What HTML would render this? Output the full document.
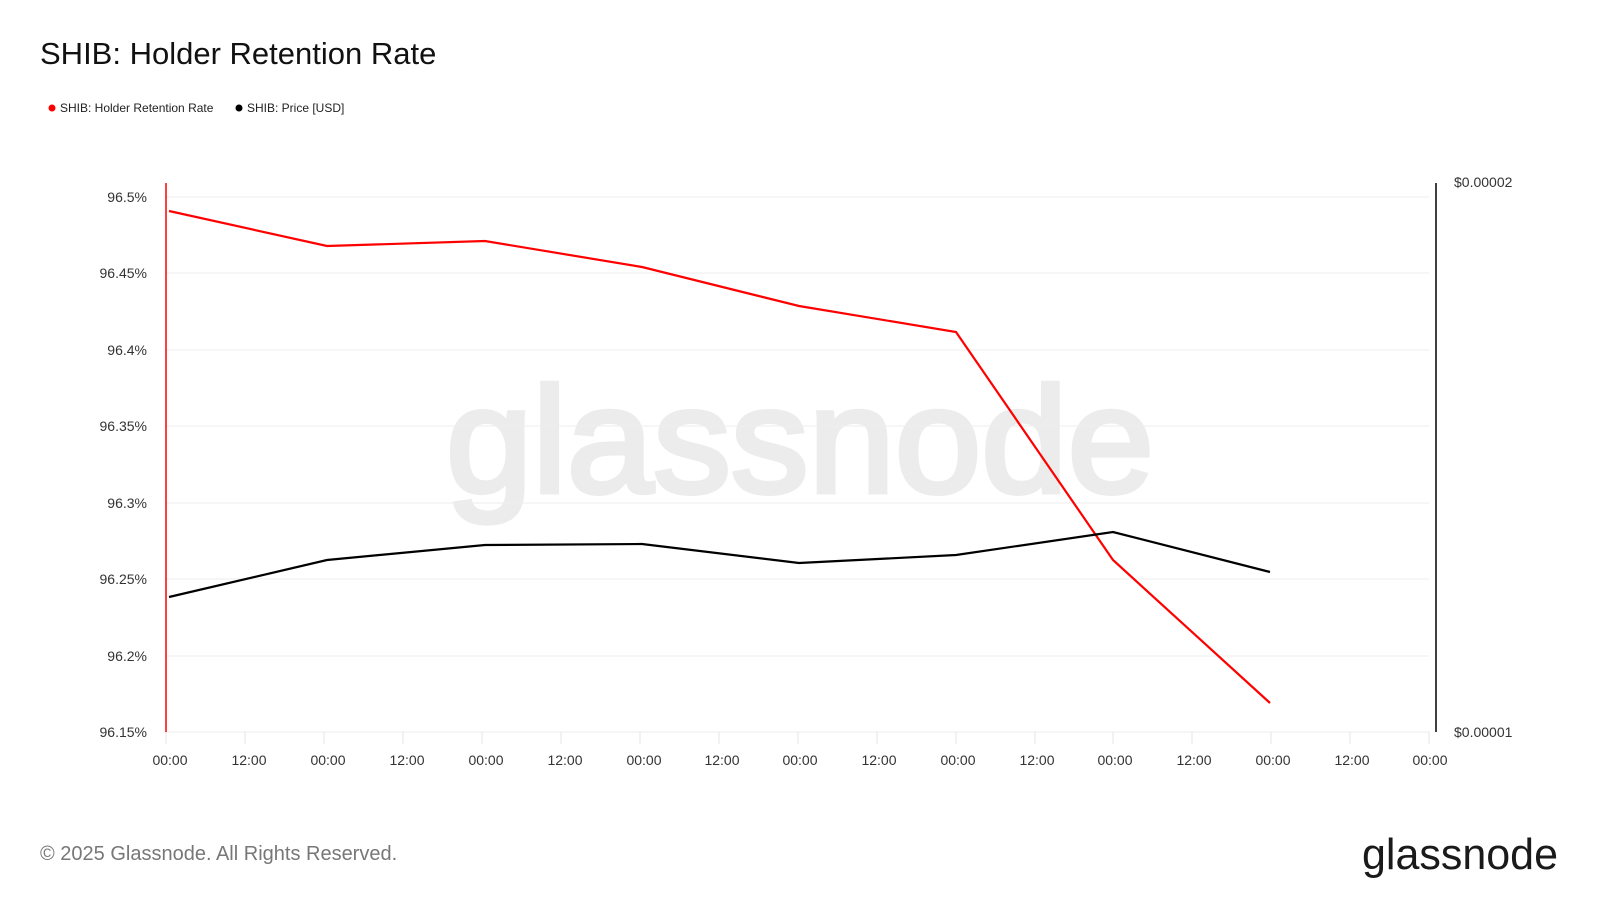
<!DOCTYPE html>
<html><head><meta charset="utf-8"><style>
body{margin:0;background:#fff;width:1600px;height:900px;overflow:hidden;font-family:"Liberation Sans",sans-serif}
</style></head><body>
<svg width="1600" height="900" xmlns="http://www.w3.org/2000/svg" font-family="Liberation Sans, sans-serif">
<text x="40" y="64" font-size="31" fill="#111">SHIB: Holder Retention Rate</text>
<circle cx="52" cy="108" r="3.5" fill="#f00"/>
<text x="60" y="112" font-size="12" fill="#222">SHIB: Holder Retention Rate</text>
<circle cx="239" cy="108" r="3.5" fill="#000"/>
<text x="247" y="112" font-size="12" fill="#222">SHIB: Price [USD]</text>
<text x="800" y="492" font-size="150" fill="#ececec" stroke="#ececec" stroke-width="5" text-anchor="middle" textLength="708" lengthAdjust="spacingAndGlyphs">glassnode</text>
<g stroke="#eee" stroke-width="1">
<line x1="166" y1="197" x2="1429" y2="197"/><line x1="166" y1="273" x2="1429" y2="273"/>
<line x1="166" y1="350" x2="1429" y2="350"/><line x1="166" y1="426" x2="1429" y2="426"/>
<line x1="166" y1="503" x2="1429" y2="503"/><line x1="166" y1="579" x2="1429" y2="579"/>
<line x1="166" y1="656" x2="1429" y2="656"/><line x1="166" y1="732" x2="1429" y2="732"/>
</g>
<g stroke="#e6e6e6">
<line x1="166" y1="732" x2="166" y2="744"/><line x1="245" y1="732" x2="245" y2="744"/><line x1="324" y1="732" x2="324" y2="744"/><line x1="403" y1="732" x2="403" y2="744"/><line x1="482" y1="732" x2="482" y2="744"/><line x1="561" y1="732" x2="561" y2="744"/><line x1="640" y1="732" x2="640" y2="744"/><line x1="719" y1="732" x2="719" y2="744"/><line x1="798" y1="732" x2="798" y2="744"/><line x1="877" y1="732" x2="877" y2="744"/><line x1="956" y1="732" x2="956" y2="744"/><line x1="1035" y1="732" x2="1035" y2="744"/><line x1="1113" y1="732" x2="1113" y2="744"/><line x1="1192" y1="732" x2="1192" y2="744"/><line x1="1271" y1="732" x2="1271" y2="744"/><line x1="1350" y1="732" x2="1350" y2="744"/><line x1="1429" y1="732" x2="1429" y2="744"/>
</g>
<g font-size="14" fill="#333" text-anchor="middle">
<text x="170" y="765">00:00</text><text x="249" y="765">12:00</text><text x="328" y="765">00:00</text><text x="407" y="765">12:00</text><text x="486" y="765">00:00</text><text x="565" y="765">12:00</text><text x="644" y="765">00:00</text><text x="722" y="765">12:00</text><text x="800" y="765">00:00</text><text x="879" y="765">12:00</text><text x="958" y="765">00:00</text><text x="1037" y="765">12:00</text><text x="1115" y="765">00:00</text><text x="1194" y="765">12:00</text><text x="1273" y="765">00:00</text><text x="1352" y="765">12:00</text><text x="1430" y="765">00:00</text>
</g>
<g font-size="14" fill="#333" text-anchor="end">
<text x="147" y="202">96.5%</text><text x="147" y="278">96.45%</text><text x="147" y="355">96.4%</text><text x="147" y="431">96.35%</text><text x="147" y="508">96.3%</text><text x="147" y="584">96.25%</text><text x="147" y="661">96.2%</text><text x="147" y="737">96.15%</text>
</g>
<g font-size="14" fill="#333"><text x="1454" y="187">$0.00002</text><text x="1454" y="737">$0.00001</text></g>
<line x1="166" y1="183" x2="166" y2="732" stroke="#f00" stroke-width="1.5"/>
<line x1="1436" y1="183" x2="1436" y2="732" stroke="#000" stroke-width="1.5"/>
<polyline fill="none" stroke="#f00" stroke-width="2.2" points="169,211 327,246 485,241 642,267 799,306 956,332 1113,560 1270,703"/>
<polyline fill="none" stroke="#000" stroke-width="2.2" points="169,597 327,560 485,545 642,544 799,563 956,555 1113,532 1270,572"/>
<text x="40" y="860" font-size="20" fill="#777">© 2025 Glassnode. All Rights Reserved.</text>
<text x="1558" y="869" font-size="44" fill="#1a1a1a" text-anchor="end" textLength="196" lengthAdjust="spacingAndGlyphs">glassnode</text>
</svg>
</body></html>
